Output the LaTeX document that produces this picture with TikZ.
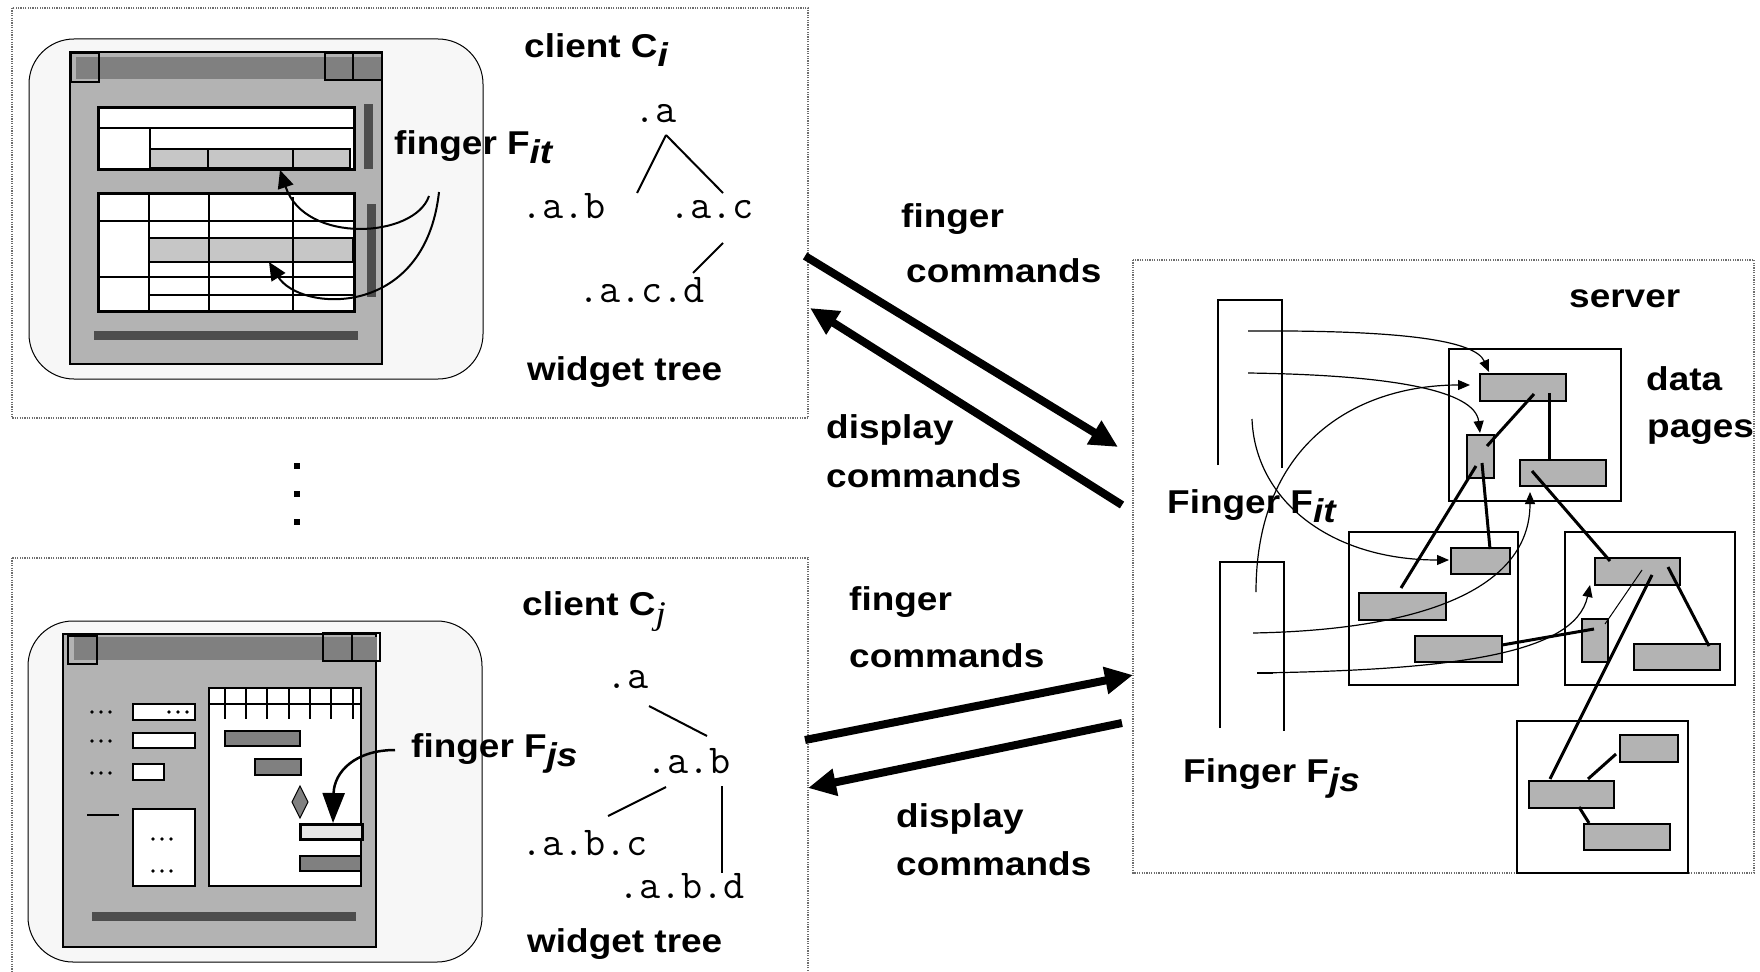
\documentclass[tikz,border=0pt]{standalone}
\usepackage{fontspec}
\setmainfont{Liberation Sans}[FakeStretch=1.12]
\newfontfamily\serifit{Liberation Serif}[FakeStretch=1.12]
\usetikzlibrary{arrows.meta,calc}
\definecolor{screenbg}{HTML}{F7F7F7}
\definecolor{wingray}{HTML}{B3B3B3}
\definecolor{tbargray}{HTML}{808080}
\definecolor{sbargray}{HTML}{4D4D4D}
\definecolor{shadegray}{HTML}{C6C6C6}
\definecolor{lightbar}{HTML}{E6E6E6}
\definecolor{framegray}{HTML}{6E6E6E}
\newcommand\lblfont{\fontsize{33}{40}\selectfont\bfseries}
\newcommand\treefont{\ttfamily\fontsize{41}{46}\selectfont}
\newcommand\lowsub[1]{\raisebox{-9pt}{\itshape #1}}
\begin{document}
\begin{tikzpicture}[x=1pt,y=-1pt,
  clientbox/.style={draw=framegray,line width=2.5pt,dash pattern=on 1.2pt off 1.2pt},
  screen/.style={draw=black,line width=1pt,fill=screenbg,rounded corners=45pt},
  win/.style={draw=black,line width=2.5pt,fill=wingray},
  tbar/.style={fill=tbargray},
  tbtn/.style={draw=black,line width=2pt},
  panel/.style={draw=black,line width=3pt},
  grid/.style={draw=black,line width=1.5pt},
  shade/.style={fill=shadegray,draw=black,line width=2.5pt},
  sbar/.style={fill=sbargray},
  chartbar/.style={fill=tbargray,draw=black,line width=2.2pt},
  field/.style={fill=white,draw=black,line width=2pt},
  block/.style={fill=wingray,draw=black,line width=2.2pt},
  pagebox/.style={draw=black,line width=2.2pt},
  edge/.style={draw=black,line width=3pt},
  thinedge/.style={draw=black,line width=1pt},
  col/.style={draw=black,line width=2pt},
  fcurve/.style={draw=black,line width=1.2pt,-{Triangle[length=12pt,width=10pt]}},
  ccurve/.style={draw=black,line width=2pt,-{Triangle[length=18pt,width=16pt]}},
  ccurvebig/.style={draw=black,line width=2.5pt,-{Triangle[length=30pt,width=22pt]}},
  bigarrow/.style={draw=black,line width=8pt,-{Triangle[length=28pt,width=26pt]}},
  lbl/.style={anchor=base west,inner sep=0pt,font=\lblfont},
  treelbl/.style={anchor=base west,inner sep=0pt,font=\treefont},
  treeline/.style={draw=black,line width=2pt},
  dot/.style={fill=black}
]
\useasboundingbox (0,0) rectangle (1760,971);
\fill[white] (0,0) rectangle (1760,971);

%% ================= top client =================
\draw[clientbox] (12,8) rectangle (808,418);
\draw[screen] (29,39) rectangle (483,379);
\draw[win] (70,52) rectangle (382,364);
\fill[tbar] (76,57) rectangle (381,79);
\draw[tbtn] (71,53) rectangle (99,82);
\draw[tbtn] (325,53) rectangle (353,80);
\draw[tbtn] (353,53) rectangle (382,80);
% top panel
\fill[white] (98,108) rectangle (354,169);
\draw[shade] (150,149) rectangle (350,168);
\draw[grid] (98,128) -- (354,128);
\draw[grid] (150,128) -- (150,169);
\draw[grid] (208,149) -- (208,168);
\draw[grid] (293,149) -- (293,168);
\draw[panel] (98,108) rectangle (354,169);
\fill[sbar] (364,104) rectangle (373,169);
% bottom panel
\fill[white] (98,193) rectangle (354,311);
\fill[shadegray] (149,238) rectangle (353,262);
\draw[grid] (98,221) -- (354,221);
\draw[grid] (98,277) -- (354,277);
\draw[grid] (149,295) -- (354,295);
\draw[grid] (149,193) -- (149,311);
\draw[grid] (209,193) -- (209,311);
\draw[grid] (293,197) -- (293,311);
\draw[black,line width=2.5pt] (149,238) rectangle (353,262);
\draw[panel] (98,193) rectangle (354,311);
\fill[sbar] (367,204) rectangle (376,297);
\fill[sbar] (94,331) rectangle (358,340);
% finger label and curves
\node[lbl] (fingit) at (394,154) {finger F\lowsub{it}};
\coordinate (c1s) at (429,196);
\coordinate (c1e) at (280,170);
\coordinate (c2s) at (439,192);
\coordinate (c2e) at (269,262);
\draw[ccurve] (c1s) .. controls (415,238) and (305,245) .. (c1e);
\draw[ccurve] (c2s) .. controls (425,320) and (300,312) .. (c2e);
% labels and tree
\node[lbl] (clienti) at (524,58) {client C\lowsub{i}};
\node[treelbl] (ta) at (634,123) {.a};
\node[treelbl] (tab) at (521,218) {.a.b};
\node[treelbl] (tac) at (669,218) {.a.c};
\node[treelbl] (tacd) at (578,302) {.a.c.d};
\draw[treeline] (666,135) -- (637,193);
\draw[treeline] (666,135) -- (723,193);
\draw[treeline] (723,243) -- (693,273);
\node[lbl] (wtree1) at (527,380) {widget tree};

%% dots between clients
\fill[dot] (294,463) rectangle (300,469);
\fill[dot] (294,491) rectangle (300,497);
\fill[dot] (294,519) rectangle (300,525);

%% ================= bottom client =================
\draw[clientbox] (12,558) rectangle (808,1000);
\draw[screen] (28,621) rectangle (482,962);
\draw[win] (63,634) rectangle (376,947);
\fill[tbar] (74,637) rectangle (377,660);
\draw[tbtn] (68,636) rectangle (97,664);
\draw[tbtn] (323,633) rectangle (352,661);
\draw[tbtn] (352,633) rectangle (380,661);
% left column
\foreach \yy in {712,741,773} {
  \foreach \xx in {92,101,110} { \fill[dot] (\xx,\yy) circle (1.8pt); }
}
\draw[field] (133,704) rectangle (195,720);
\foreach \xx in {169,178,187} { \fill[dot] (\xx,712) circle (1.8pt); }
\draw[field] (133,733) rectangle (195,748);
\draw[field] (133,764) rectangle (164,780);
\draw[black,line width=2.5pt] (87,815) -- (119,815);
\draw[field] (133,809) rectangle (195,886);
\foreach \yy in {839,871} {
  \foreach \xx in {153,162,171} { \fill[dot] (\xx,\yy) circle (1.8pt); }
}
% chart
\draw[field] (209,688) rectangle (361,886);
\draw[grid] (209,704) -- (361,704);
\foreach \xx in {225,246,267,289,310,331,353} { \draw[black,line width=2pt] (\xx,688) -- (\xx,719); }
\draw[chartbar] (225,731) rectangle (300,746);
\draw[chartbar] (255,759) rectangle (301,775);
\draw[fill=tbargray,draw=black,line width=1pt] (300,786) -- (308,802) -- (300,818) -- (292,802) -- cycle;
\draw[fill=lightbar,draw=black,line width=3pt] (300,824) rectangle (362,839);
\draw[chartbar] (300,856) rectangle (361,871);
\fill[sbar] (92,912) rectangle (356,921);
% finger label and curve
\node[lbl] (fingjs) at (411,757) {finger F\lowsub{js}};
\coordinate (c3s) at (395,750);
\coordinate (c3e) at (333,823);
\draw[ccurvebig] (c3s) .. controls (355,750) and (334,772) .. (c3e);
% labels and tree
\node[lbl] (clientj) at (522,615) {client C\raisebox{-9pt}{\serifit\itshape\mdseries j}};
\node[treelbl] (ba) at (606,688) {.a};
\node[treelbl] (bab) at (646,773) {.a.b};
\node[treelbl] (babc) at (521,855) {.a.b.c};
\node[treelbl] (babd) at (618,898) {.a.b.d};
\draw[treeline] (649,706) -- (707,736);
\draw[treeline] (666,787) -- (608,816);
\draw[treeline] (722,786) -- (722,873);
\node[lbl] (wtree2) at (527,952) {widget tree};

%% ================= communication arrows =================
\coordinate (fa1s) at (805,256);
\coordinate (fa1e) at (1118,447);
\coordinate (da1s) at (1122,505);
\coordinate (da1e) at (810,308);
\coordinate (fa2s) at (805,740);
\coordinate (fa2e) at (1133,675);
\coordinate (da2s) at (1122,723);
\coordinate (da2e) at (808,788);
\draw[bigarrow] (fa1s) -- (fa1e);
\draw[bigarrow] (da1s) -- (da1e);
\draw[bigarrow] (fa2s) -- (fa2e);
\draw[bigarrow] (da2s) -- (da2e);
\node[lbl] (fc1a) at (901,227) {finger};
\node[lbl] (fc1b) at (906,282) {commands};
\node[lbl] (dc1a) at (826,438) {display};
\node[lbl] (dc1b) at (826,487) {commands};
\node[lbl] (fc2a) at (849,610) {finger};
\node[lbl] (fc2b) at (849,667) {commands};
\node[lbl] (dc2a) at (896,827) {display};
\node[lbl] (dc2b) at (896,875) {commands};

%% ================= server =================
\draw[clientbox] (1133,260) rectangle (1754,873);
\node[lbl] (server) at (1569,307) {server};
\node[lbl] (data) at (1646,390) {data};
\node[lbl] (pages) at (1647,437) {pages};
% finger columns
\draw[col] (1218,465) -- (1218,300) -- (1282,300) -- (1282,468);
\draw[col] (1220,728) -- (1220,562) -- (1284,562) -- (1284,731);
% page boxes
\draw[pagebox] (1449,349) rectangle (1621,501);
\draw[pagebox] (1349,532) rectangle (1518,685);
\draw[pagebox] (1565,532) rectangle (1735,685);
\draw[pagebox] (1517,721) rectangle (1688,873);
% blocks
\node[block,anchor=north west,minimum width=86pt,minimum height=27pt,inner sep=0pt] (b1a) at (1479,373) {};
\node[block,anchor=north west,minimum width=27pt,minimum height=43pt,inner sep=0pt] (b1b) at (1466,434) {};
\node[block,anchor=north west,minimum width=86pt,minimum height=26pt,inner sep=0pt] (b1c) at (1519,459) {};
\node[block,anchor=north west,minimum width=59pt,minimum height=26pt,inner sep=0pt] (b2a) at (1450,547) {};
\node[block,anchor=north west,minimum width=87pt,minimum height=27pt,inner sep=0pt] (b2b) at (1358,592) {};
\node[block,anchor=north west,minimum width=87pt,minimum height=26pt,inner sep=0pt] (b2c) at (1414,635) {};
\node[block,anchor=north west,minimum width=85pt,minimum height=27pt,inner sep=0pt] (b3a) at (1594,557) {};
\node[block,anchor=north west,minimum width=26pt,minimum height=43pt,inner sep=0pt] (b3b) at (1581,618) {};
\node[block,anchor=north west,minimum width=86pt,minimum height=26pt,inner sep=0pt] (b3c) at (1633,643) {};
\node[block,anchor=north west,minimum width=58pt,minimum height=27pt,inner sep=0pt] (b4a) at (1619,734) {};
\node[block,anchor=north west,minimum width=85pt,minimum height=27pt,inner sep=0pt] (b4b) at (1528,780) {};
\node[block,anchor=north west,minimum width=86pt,minimum height=26pt,inner sep=0pt] (b4c) at (1583,823) {};
% tree edges between blocks
\draw[edge] (1534,394) -- (1487,446);
\draw[edge] (1549,393) -- (1549,459);
\draw[edge] (1476,466) -- (1401,588);
\draw[edge] (1482,463) -- (1490,549);
\draw[edge] (1532,471) -- (1610,561);
\draw[thinedge] (1642,570) -- (1605,624);
\draw[edge] (1652,575) -- (1550,779);
\draw[edge] (1668,567) -- (1709,646);
\draw[edge] (1616,754) -- (1588,779);
\draw[edge] (1579,807) -- (1589,823);
\draw[edge] (1502,645) -- (1594,629);
% finger curves
\coordinate (fA) at (1248,331);
\coordinate (fB) at (1248,373);
\coordinate (fC) at (1252,419);
\coordinate (fD) at (1256,592);
\coordinate (fE) at (1253,633);
\coordinate (fF) at (1257,673);
\draw[fcurve] (fA) .. controls (1400,330) and (1475,340) .. (1489,372);
\draw[fcurve] (fB) .. controls (1390,375) and (1475,390) .. (1480,433);
\draw[fcurve] (fC) .. controls (1255,500) and (1330,560) .. (1449,560);
\draw[fcurve] (fD) .. controls (1256,440) and (1360,385) .. (1470,385);
\draw[fcurve] (fE) .. controls (1420,630) and (1530,590) .. (1530,492);
\draw[fcurve] (fF) .. controls (1450,670) and (1575,655) .. (1590,585);
\draw[black,line width=2.5pt] (1257,673) -- (1273,673);
\node[lbl] (fit) at (1167,513) {Finger F\lowsub{it}};
\node[lbl] (fjs) at (1183,782) {Finger F\lowsub{js}};
\end{tikzpicture}
\end{document}
